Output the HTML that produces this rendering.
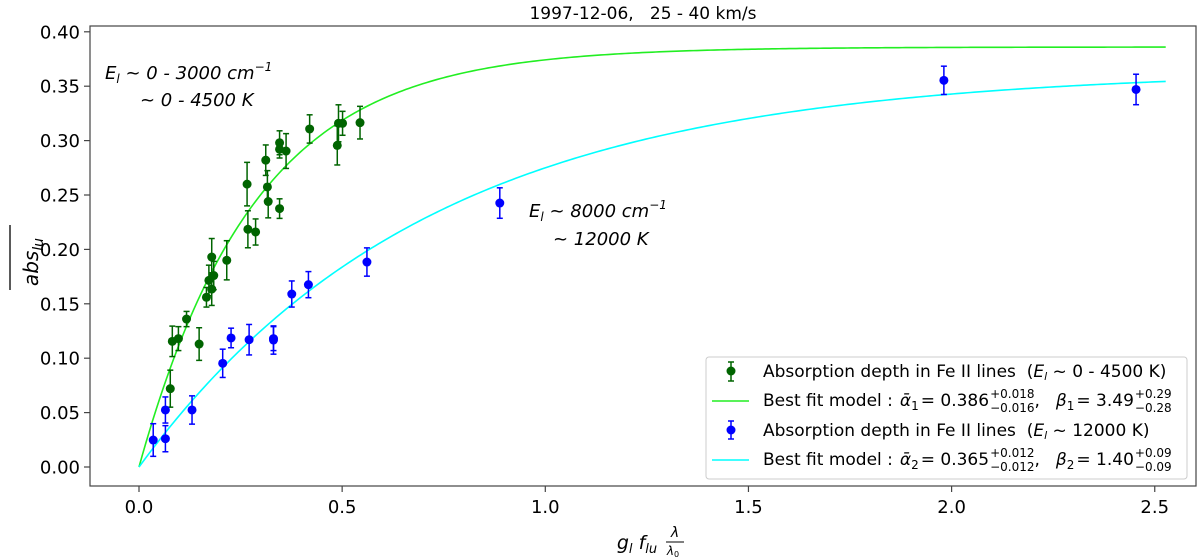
<!DOCTYPE html>
<html><head><meta charset="utf-8"><style>
body{margin:0;background:#fff;}
svg{display:block;font-family:"DejaVu Sans","Liberation Sans",sans-serif;}
text{white-space:pre;}
</style></head><body>
<svg id="chart" width="1200" height="558" viewBox="0 0 1200 558">
<rect x="0" y="0" width="1200" height="558" fill="#fff"/>
<text x="643" y="19" font-size="17" text-anchor="middle">1997-12-06,   25 - 40 km/s</text>
<g id="plot"></g>
<rect x="90" y="26" width="1106" height="460" fill="none" stroke="#444" stroke-width="1.2"/>
<g id="xt"></g>
<g id="yt"></g>
<text transform="translate(38,262) rotate(-90)" font-size="20" font-style="italic" text-anchor="middle">abs<tspan font-size="14" dy="5">lu</tspan></text>
<line x1="10" y1="225" x2="10" y2="290" stroke="#000" stroke-width="1.3"/>
<text x="637" y="549" font-size="19" font-style="italic" text-anchor="middle">g<tspan font-size="13" dy="4">l</tspan><tspan dy="-4"> f</tspan><tspan font-size="13" dy="4">lu</tspan></text>
<text x="675" y="537" font-size="14" font-style="italic" text-anchor="middle">λ</text>
<line x1="666" y1="542" x2="684" y2="542" stroke="#000" stroke-width="1"/>
<text x="673" y="555" font-size="12" font-style="italic" text-anchor="middle">λ<tspan font-size="8" font-style="normal" dy="2">0</tspan></text>
<g font-size="18" font-style="italic">
<text x="105" y="79">E<tspan font-size="12" dy="4">l</tspan><tspan dy="-4"> ~ 0 - 3000 cm</tspan><tspan font-size="12" dy="-8">−1</tspan></text>
<text x="140" y="106">~ 0 - 4500 K</text>
</g>
<g font-size="18" font-style="italic">
<text x="529" y="217">E<tspan font-size="12" dy="4">l</tspan><tspan dy="-4"> ~ 8000 cm</tspan><tspan font-size="12" dy="-8">−1</tspan></text>
<text x="553" y="245">~ 12000 K</text>
</g>
<g id="legend">
<rect x="706" y="357" width="481" height="122" rx="3" fill="#fff" stroke="#ccc" stroke-width="1"/>
<g font-size="17">
<line x1="731" y1="362" x2="731" y2="381" stroke="#006400" stroke-width="1.5"/><line x1="728" y1="362" x2="734" y2="362" stroke="#006400" stroke-width="1.5"/><line x1="728" y1="381" x2="734" y2="381" stroke="#006400" stroke-width="1.5"/><circle cx="731" cy="371" r="4.5" fill="#006400"/>
<text x="763" y="377">Absorption depth in Fe II lines  (<tspan font-style="italic">E</tspan><tspan font-size="11" font-style="italic" dy="3">l</tspan><tspan dy="-3"> ~ 0 - 4500 K)</tspan></text>
<line x1="712" y1="401" x2="749" y2="401" stroke="#22ee22" stroke-width="1.6"/>
<g id="fit1"></g>
<line x1="731" y1="421" x2="731" y2="439" stroke="#0000ff" stroke-width="1.5"/><line x1="728" y1="421" x2="734" y2="421" stroke="#0000ff" stroke-width="1.5"/><line x1="728" y1="439" x2="734" y2="439" stroke="#0000ff" stroke-width="1.5"/><circle cx="731" cy="430" r="4.5" fill="#0000ff"/>
<text x="763" y="436">Absorption depth in Fe II lines  (<tspan font-style="italic">E</tspan><tspan font-size="11" font-style="italic" dy="3">l</tspan><tspan dy="-3"> ~ 12000 K)</tspan></text>
<line x1="712" y1="460" x2="749" y2="460" stroke="#00ffff" stroke-width="1.6"/>
<g id="fit2"></g>
</g>
</g>
</svg>
<script>
const xTicks=[0.0,0.5,1.0,1.5,2.0,2.5];
const yTicks=[0.00,0.05,0.10,0.15,0.20,0.25,0.30,0.35,0.40];
const greenX=[0.077,0.082,0.097,0.117,0.148,0.166,0.172,0.179,0.179,0.184,0.216,0.266,0.268,0.287,0.312,0.316,0.318,0.346,0.346,0.346,0.362,0.420,0.488,0.491,0.501,0.544];
const greenY=[0.072,0.1155,0.118,0.136,0.113,0.156,0.1715,0.193,0.1635,0.176,0.190,0.260,0.2185,0.216,0.282,0.2574,0.244,0.2375,0.298,0.292,0.2904,0.3107,0.2956,0.3159,0.3159,0.3165];
const greenErr=[0.017,0.014,0.011,0.007,0.015,0.009,0.014,0.017,0.015,0.013,0.018,0.020,0.017,0.012,0.014,0.015,0.015,0.009,0.011,0.008,0.016,0.013,0.018,0.017,0.011,0.015];
const blueX=[0.035,0.065,0.065,0.1305,0.206,0.2266,0.271,0.331,0.331,0.376,0.417,0.561,0.888,1.981,2.454];
const blueY=[0.0248,0.0524,0.026,0.0524,0.0953,0.1186,0.117,0.1167,0.118,0.159,0.1676,0.1884,0.2426,0.3554,0.347];
const blueErr=[0.015,0.012,0.012,0.013,0.013,0.009,0.014,0.013,0.011,0.012,0.012,0.013,0.014,0.013,0.014];
const greenAlpha=0.386, greenBeta=3.49, cyanAlpha=0.365, cyanBeta=1.40, curveMaxX=2.527;
const NS='http://www.w3.org/2000/svg';
const X=v=>139+v*406.3;
const Y=v=>467-v*1088;
function mk(tag,attrs,parent){const e=document.createElementNS(NS,tag);for(const k in attrs)e.setAttribute(k,attrs[k]);parent.appendChild(e);return e;}
const plot=document.getElementById('plot'),xt=document.getElementById('xt'),yt=document.getElementById('yt');
xTicks.forEach(t=>{
  const l=mk('line',{x1:X(t),x2:X(t),y1:486,y2:492,stroke:'#444','stroke-width':1.2},xt);
  
  
  const tx=mk('text',{x:X(t),y:513,'font-size':18,'text-anchor':'middle'},xt);tx.textContent=t.toFixed(1);
  
  
});
yTicks.forEach(t=>{
  const l=mk('line',{x1:84,x2:90,y1:Y(t),y2:Y(t),stroke:'#444','stroke-width':1.2},yt);
  
  
  const tx=mk('text',{x:80,y:Y(t)+6.5,'font-size':18,'text-anchor':'end'},yt);tx.textContent=t.toFixed(2);
  
  
});
function curve(a,b,col,name){
  let d='';for(let i=0;i<=300;i++){const x=curveMaxX*i/300;const y=a*(1-Math.exp(-b*x));d+=(i?'L':'M')+X(x).toFixed(2)+','+Y(y).toFixed(2);}
  const p=mk('path',{d:d,fill:'none',stroke:col,'stroke-width':1.6},plot);
  
  
}
curve(greenAlpha,greenBeta,'#22ee22','green-fit-curve');
curve(cyanAlpha,cyanBeta,'#00ffff','cyan-fit-curve');
function pts(xs,ys,es,col,name){
  xs.forEach((x,i)=>{
    const g=mk('g',{},plot);
    
    
    const cx=X(x),y1=Y(ys[i]-es[i]),y2=Y(ys[i]+es[i]);
    mk('line',{x1:cx,x2:cx,y1:y1,y2:y2,stroke:col,'stroke-width':1.5},g);
    mk('line',{x1:cx-3,x2:cx+3,y1:y1,y2:y1,stroke:col,'stroke-width':1.5},g);
    mk('line',{x1:cx-3,x2:cx+3,y1:y2,y2:y2,stroke:col,'stroke-width':1.5},g);
    mk('circle',{cx:cx,cy:Y(ys[i]),r:4.5,fill:col},g);
  });
}
pts(greenX,greenY,greenErr,'#006400','green-data-point');
pts(blueX,blueY,blueErr,'#0000ff','blue-data-point');
function seg(parent,x,y,str,opts,adv){
  const t=mk('text',Object.assign({x:x,y:y,'font-size':17},opts||{}),parent);
  t.textContent=str;return x+t.getComputedTextLength()+(adv||0);
}
function fitEntry(id,y,idx,a,ap,am,b,bp,bm){
  const g=document.getElementById(id);let x=763;
  x=seg(g,x,y,'Best fit model :',{},7);
  x=seg(g,x,y,'ᾱ',{'font-style':'italic'});
  x=seg(g,x,y+4,idx,{'font-size':12},2);
  x=seg(g,x,y,'= '+a);
  const w1=seg(g,x+1,y-8,ap,{'font-size':12});const w2=seg(g,x+1,y+6,am,{'font-size':12});
  x=Math.max(w1,w2);
  x=seg(g,x,y,',',{},16);
  x=seg(g,x,y,'β',{'font-style':'italic'});
  x=seg(g,x,y+4,idx,{'font-size':12},2);
  x=seg(g,x,y,'= '+b);
  seg(g,x+1,y-8,bp,{'font-size':12});seg(g,x+1,y+6,bm,{'font-size':12});
}
fitEntry('fit1',406,'1','0.386','+0.018','−0.016','3.49','+0.29','−0.28');
fitEntry('fit2',465,'2','0.365','+0.012','−0.012','1.40','+0.09','−0.09');
</script>
</body></html>
